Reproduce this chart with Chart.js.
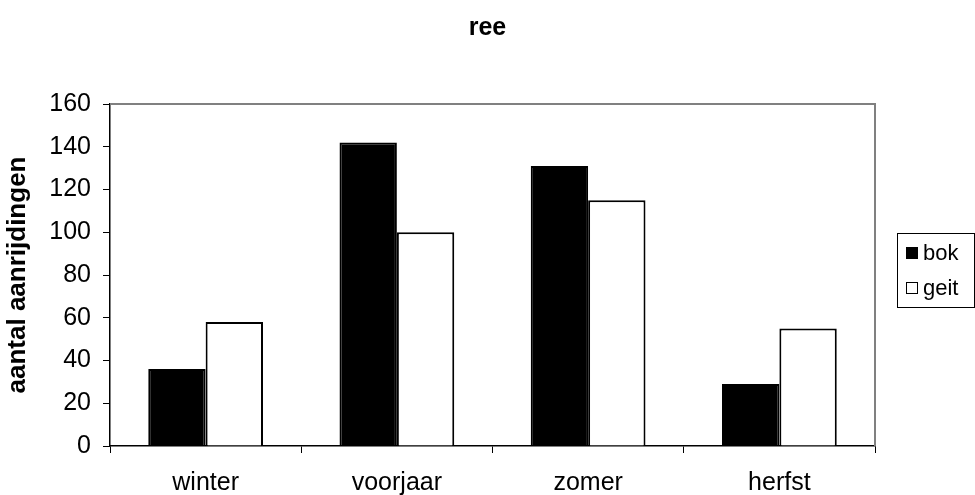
<!DOCTYPE html>
<html>
<head>
<meta charset="utf-8">
<script src="https://cdn.jsdelivr.net/npm/chart.js@4.4.1/dist/chart.umd.min.js"></script>
<style>
  html, body { margin: 0; padding: 0; background: #fff; }
  #wrap { width: 975px; height: 495px; }
</style>
</head>
<body>
<div id="wrap"><canvas id="reeChart"></canvas></div>
<script>
const seizoenen = ['winter', 'voorjaar', 'zomer', 'herfst'];
const bok = [36, 142, 131, 29];
const geit = [58, 100, 115, 55];

const FONT = "'Liberation Sans', Arial, sans-serif";

// kader boven/rechts + legenda met rand, zoals in Excel
const kaderPlugin = {
  id: 'kader',
  afterDraw(chart) {
    const { ctx, chartArea: a } = chart;
    ctx.save();
    ctx.strokeStyle = '#808080';
    ctx.lineWidth = 2;
    ctx.beginPath();
    ctx.moveTo(a.left, a.top);
    ctx.lineTo(a.right, a.top);
    ctx.lineTo(a.right, a.bottom);
    ctx.stroke();

    // legenda
    const bx = 897, by = 233, bw = 77, bh = 74;
    ctx.strokeStyle = '#000';
    ctx.lineWidth = 1;
    ctx.strokeRect(bx + 0.5, by + 0.5, bw, bh);
    ctx.font = '22px ' + FONT;
    ctx.textBaseline = 'middle';
    chart.data.datasets.forEach((ds, i) => {
      const y = by + 20 + i * 35;
      ctx.fillStyle = ds.backgroundColor;
      ctx.fillRect(bx + 9, y - 6, 12, 12);
      ctx.strokeStyle = '#000';
      ctx.strokeRect(bx + 9.5, y - 5.5, 11, 11);
      ctx.fillStyle = '#000';
      ctx.fillText(ds.label, bx + 26, y + 1);
    });
    ctx.restore();
  }
};

new Chart(document.getElementById('reeChart'), {
  type: 'bar',
  data: {
    labels: seizoenen,
    datasets: [
      {
        label: 'bok',
        data: bok,
        backgroundColor: '#000000',
        borderColor: '#000000',
        borderWidth: 2
      },
      {
        label: 'geit',
        data: geit,
        backgroundColor: '#ffffff',
        borderColor: '#000000',
        borderWidth: 2
      }
    ]
  },
  options: {
    responsive: true,
    maintainAspectRatio: false,
    animation: false,
    layout: { padding: 0 },
    datasets: {
      bar: { categoryPercentage: 0.6, barPercentage: 1.0 }
    },
    plugins: {
      legend: { display: false },
      tooltip: { enabled: false },
      title: {
        display: true,
        text: 'ree',
        color: '#000',
        font: { family: FONT, size: 25, weight: 'bold', lineHeight: 1.2 },
        padding: { top: 13, bottom: 61 }
      }
    },
    scales: {
      x: {
        grid: {
          offset: true,
          drawOnChartArea: false,
          color: '#000',
          tickLength: 7
        },
        border: { color: '#000', width: 1.5 },
        ticks: {
          color: '#000',
          padding: 15,
          font: { family: FONT, size: 25 }
        },
        afterFit(scale) { scale.height = 49; }
      },
      y: {
        min: 0,
        max: 160,
        ticks: {
          stepSize: 20,
          color: '#000',
          padding: 12,
          font: { family: FONT, size: 25 }
        },
        grid: {
          drawOnChartArea: false,
          color: '#000',
          tickLength: 7
        },
        border: { color: '#000', width: 1.5 },
        title: {
          display: true,
          text: 'aantal aanrijdingen',
          color: '#000',
          font: { family: FONT, size: 26, weight: 'bold', lineHeight: 1.1 },
          padding: { top: 4, bottom: 0 }
        },
        afterFit(scale) { scale.width = 110; }
      },
      // ruimte voor de legenda rechts
      ruimte: {
        type: 'linear',
        position: 'right',
        display: true,
        ticks: { display: false },
        grid: { display: false },
        border: { display: false },
        afterFit(scale) { scale.width = 100; }
      }
    }
  },
  plugins: [kaderPlugin]
});
</script>
</body>
</html>
